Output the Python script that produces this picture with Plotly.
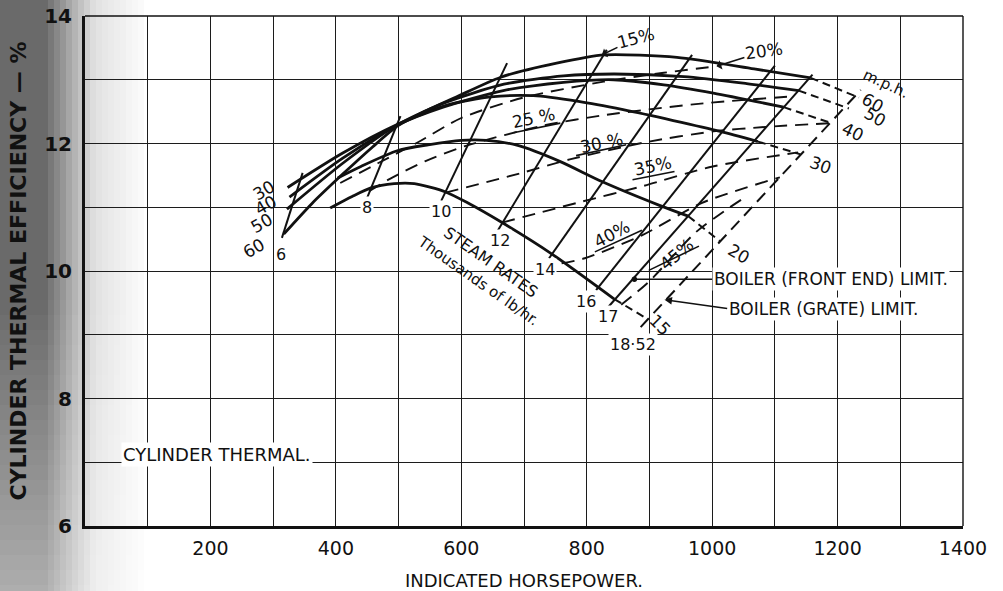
import plotly.graph_objects as go

INK = "#111111"
FONT = "DejaVu Sans"

# ---- constant-speed curves: indicated horsepower vs cylinder thermal efficiency (%) ----
hp_15mph = [391, 426, 455, 493, 525, 575, 610, 665, 744, 844]
eff_15mph = [10.99, 11.17, 11.30, 11.37, 11.37, 11.24, 11.07, 10.76, 10.27, 9.56]
hp_20mph = [403, 440, 499, 547, 600, 640, 690, 757, 825, 916, 962]
eff_20mph = [11.46, 11.64, 11.89, 11.98, 12.05, 12.05, 11.97, 11.72, 11.40, 11.03, 10.86]
hp_30mph = [323, 411, 496, 576, 647, 715, 787, 858, 938, 1013, 1073]
eff_30mph = [11.31, 11.85, 12.29, 12.60, 12.73, 12.75, 12.66, 12.53, 12.36, 12.19, 12.03]
hp_40mph = [326, 411, 496, 571, 667, 763, 843, 923, 1002, 1114]
eff_40mph = [11.16, 11.77, 12.28, 12.57, 12.83, 12.96, 13.00, 12.92, 12.79, 12.57]
hp_50mph = [322, 411, 496, 571, 668, 763, 843, 955, 1055, 1138]
eff_50mph = [10.97, 11.69, 12.28, 12.63, 12.93, 13.06, 13.09, 13.05, 12.94, 12.83]
hp_60mph = [317, 362, 411, 459, 499, 539, 592, 663, 752, 828, 944, 1067, 1157]
eff_60mph = [10.58, 11.06, 11.52, 11.95, 12.28, 12.49, 12.73, 13.04, 13.26, 13.39, 13.35, 13.17, 13.03]

speeds = ["15", "20", "30", "40", "50", "60"]
# each speed carried on (dashed) from the front-end limit to the grate limit
grate_hp = [898, 1012, 1141, 1190, 1218, 1234]
grate_eff = [9.24, 10.47, 11.83, 12.32, 12.55, 12.72]

# ---- constant steam-rate lines (thousands of lb/hr) ----
steam_rates = ["6", "8", "10", "12", "14", "16", "17"]
steam_hp_low = [314, 450, 568, 658, 740, 815, 833]
steam_eff_low = [10.52, 11.15, 11.10, 10.63, 10.20, 9.70, 9.42]
steam_hp_high = [347, 503, 673, 832, 968, 1100, 1160]
steam_eff_high = [11.54, 12.43, 13.26, 13.47, 13.39, 13.22, 13.08]
# boiler grate limit, 18.52 thousand lb/hr
grate_limit_hp = [886, 1237]
grate_limit_eff = [9.12, 12.84]

# ---- constant cut-off lines ----
hp_co20 = [407, 467, 531, 600, 699, 827, 923, 1007]
eff_co20 = [11.38, 11.69, 12.02, 12.40, 12.72, 12.97, 13.11, 13.21]
hp_co25 = [453, 487, 542, 606, 730, 831, 986, 1130]
eff_co25 = [11.25, 11.45, 11.72, 11.96, 12.28, 12.45, 12.63, 12.74]
hp_co30 = [575, 693, 773, 894, 1002, 1085, 1190]
eff_co30 = [11.23, 11.53, 11.75, 12.02, 12.19, 12.26, 12.32]
hp_co35 = [665, 793, 889, 1001, 1137]
eff_co35 = [10.76, 11.09, 11.33, 11.64, 11.86]
hp_co40 = [760, 797, 888, 984, 1108]
eff_co40 = [10.12, 10.20, 10.56, 11.07, 11.47]
hp_co45 = [855, 898, 973, 1021, 1056]
eff_co45 = [9.47, 9.82, 10.60, 10.95, 11.18]

# ---- label positions ----
steam_labels = ["6", "8", "10", "12", "14", "16", "17", "18·52"]
steam_label_hp = [312, 450, 568, 662, 734, 799, 834, 873]
steam_label_eff = [10.26, 11.00, 10.93, 10.48, 10.02, 9.52, 9.28, 8.85]

left_speed_labels = ["30", "40", "50", "60"]
left_speed_hp = [286, 289, 282, 270]
left_speed_eff = [11.27, 11.03, 10.75, 10.36]

right_speed_labels = ["15", "20", "30", "40", "50", "60"]
right_speed_hp = [917, 1043, 1173, 1225, 1260, 1257]
right_speed_eff = [9.15, 10.27, 11.67, 12.18, 12.41, 12.64]
right_speed_angle = [45, 30, 20, 25, 30, 30]

cutoff_labels = ["25 %", "30 %", "35%", "40%", "45%"]
cutoff_label_hp = [715, 823, 905, 840, 944]
cutoff_label_eff = [12.40, 12.01, 11.64, 10.58, 10.26]
cutoff_label_angle = [-12, -12, -12, -28, -40]
# short rules under the cut-off labels
cutoff_rule_hp = [(683, 758), (783, 863), (873, 940), (813, 888), (899, 979)]
cutoff_rule_eff = [(12.17, 12.32), (11.81, 11.98), (11.43, 11.56), (10.30, 10.64), (10.01, 10.39)]

fig = go.Figure()


def add_line(x, y, width, dash="solid", shape="linear"):
    fig.add_trace(go.Scatter(
        x=x, y=y, mode="lines", hoverinfo="skip", showlegend=False,
        line=dict(color=INK, width=width, dash=dash, shape=shape, smoothing=0.7),
    ))


# steam-rate lines
for i in range(len(steam_rates)):
    add_line([steam_hp_low[i], steam_hp_high[i]], [steam_eff_low[i], steam_eff_high[i]], 2.0)
add_line(grate_limit_hp, grate_limit_eff, 2.0, dash="12px,7px")

# cut-off lines
for hx, ey in [(hp_co20, eff_co20), (hp_co25, eff_co25), (hp_co30, eff_co30),
               (hp_co35, eff_co35), (hp_co40, eff_co40), (hp_co45, eff_co45)]:
    add_line(hx, ey, 1.9, dash="13px,8px", shape="spline")

# speed curves and their dashed continuation to the grate limit
speed_hp = [hp_15mph, hp_20mph, hp_30mph, hp_40mph, hp_50mph, hp_60mph]
speed_eff = [eff_15mph, eff_20mph, eff_30mph, eff_40mph, eff_50mph, eff_60mph]
for i in range(len(speeds)):
    add_line(speed_hp[i], speed_eff[i], 2.8, shape="spline")
    add_line([speed_hp[i][-1], grate_hp[i]], [speed_eff[i][-1], grate_eff[i]], 2.0, dash="8px,5px")

# rules under cut-off labels
for hx, ey in zip(cutoff_rule_hp, cutoff_rule_eff):
    add_line(list(hx), list(ey), 1.6)

annotations = []


def label(text, x, y, size=15, angle=0, xanchor="center", bg=None, **kw):
    a = dict(text=text, x=x, y=y, xref="x", yref="y", showarrow=False,
             font=dict(family=FONT, size=size, color=INK), textangle=angle,
             xanchor=xanchor, yanchor="middle")
    if bg:
        a.update(bgcolor=bg, borderpad=1)
    a.update(kw)
    annotations.append(a)


for t, x, y in zip(steam_labels, steam_label_hp, steam_label_eff):
    label(t, x, y, size=16, bg="white")
for t, x, y in zip(left_speed_labels, left_speed_hp, left_speed_eff):
    label(t, x, y, size=17, angle=-30)
for t, x, y, a in zip(right_speed_labels, right_speed_hp, right_speed_eff, right_speed_angle):
    label(t, x, y, size=17, angle=a)
label("m.p.h.", 1278, 12.94, size=15, angle=25)
for t, x, y, a in zip(cutoff_labels, cutoff_label_hp, cutoff_label_eff, cutoff_label_angle):
    label(t, x, y, size=17, angle=a)

# 15 % and 20 % cut-offs marked by arrows onto the 60 m.p.h. curve
for t, tip, txt, ang in [("15%", (824, 13.39), (879, 13.65), -15),
                         ("20%", (1007, 13.21), (1083, 13.45), -8)]:
    annotations.append(dict(
        text=t, x=tip[0], y=tip[1], ax=txt[0], ay=txt[1], axref="x", ayref="y",
        xref="x", yref="y", showarrow=True, arrowhead=1, arrowsize=1, arrowwidth=1.6,
        arrowcolor=INK, textangle=ang, font=dict(family=FONT, size=17, color=INK)))

label("STEAM RATES", 648, 10.14, size=16, angle=35)
label("Thousands of lb/hr.", 627, 9.84, size=15, angle=35)

# boiler limits
annotations.append(dict(
    text="BOILER (FRONT END) LIMIT.", x=876, y=9.87, ax=1000, ay=9.87, axref="x", ayref="y",
    xref="x", yref="y", showarrow=True, arrowhead=6, arrowsize=0.9, arrowwidth=1.5,
    arrowcolor=INK, xanchor="left", bgcolor="white", borderpad=1,
    font=dict(family=FONT, size=17, color=INK)))
annotations.append(dict(
    text="BOILER (GRATE) LIMIT.", x=924, y=9.55, ax=1024, ay=9.41, axref="x", ayref="y",
    xref="x", yref="y", showarrow=True, arrowhead=2, arrowsize=1, arrowwidth=1.5,
    arrowcolor=INK, xanchor="left", bgcolor="white", borderpad=1,
    font=dict(family=FONT, size=17, color=INK)))

label("CYLINDER THERMAL.", 58, 7.0, size=18, xanchor="left", bg="white", yshift=8)

# dark scanner haze along the left edge of the sheet
L, W, T, H = 85, 878, 16, 510
shapes = []


def haze(px, py):
    if px < 45:
        h = 1.0
    elif px < 75:
        h = 1.0 - (px - 45) / 30 * 0.5
    elif px < 95:
        h = 0.5 - (px - 75) / 20 * 0.3
    elif px < 150:
        h = 0.2 - (px - 95) / 55 * 0.2
    else:
        h = 0.0
    v = 1.0 if py < 300 else 1.0 - (py - 300) / 291 * 0.45
    return 0.72 * h * v


STEP_X, STEP_Y = 6, 15
for cx in range(0, 152, STEP_X):
    for cy in range(0, 591, STEP_Y):
        op = haze(cx + STEP_X / 2, cy + STEP_Y / 2)
        if op <= 0.01:
            continue
        shapes.append(dict(
            type="rect", xref="paper", yref="paper", layer="below", line=dict(width=0),
            x0=(cx - L) / W, x1=(cx + STEP_X - L) / W,
            y0=(T + H - cy - STEP_Y) / H, y1=(T + H - cy) / H,
            fillcolor="#303030", opacity=round(op, 3)))

# top and right edges of the grid
shapes.append(dict(type="line", xref="paper", yref="paper", x0=0, x1=1, y0=1, y1=1,
                   line=dict(color=INK, width=1.4)))
shapes.append(dict(type="line", xref="paper", yref="paper", x0=1, x1=1, y0=0, y1=1,
                   line=dict(color=INK, width=1.4)))

grid = dict(showgrid=True, gridcolor="#1c1c1c", gridwidth=1.3)

fig.update_layout(
    width=1003, height=591,
    margin=dict(l=L, r=1003 - L - W, t=T, b=591 - T - H, autoexpand=False),
    paper_bgcolor="white", plot_bgcolor="rgba(0,0,0,0)",
    font=dict(family=FONT, color=INK),
    annotations=annotations, shapes=shapes,
    xaxis=dict(
        range=[0, 1400], tickmode="array", tickvals=[200, 400, 600, 800, 1000, 1200, 1400],
        ticks="", ticklen=0, tickfont=dict(size=19, family=FONT, color=INK), ticklabelstandoff=3,
        showline=True, linecolor=INK, linewidth=3, zeroline=False, automargin=False,
        minor=dict(tickmode="linear", tick0=0, dtick=100, showgrid=True,
                   gridcolor="#1c1c1c", gridwidth=1.3),
        title=dict(text="INDICATED HORSEPOWER.", font=dict(size=18, family=FONT, color=INK),
                   standoff=18),
        **grid,
    ),
    yaxis=dict(
        range=[6, 14], tickmode="array", tickvals=[6, 8, 10, 12, 14],
        ticks="", tickfont=dict(size=20, family=FONT, color=INK, weight="bold"),
        ticklabelstandoff=6,
        showline=True, linecolor=INK, linewidth=3, zeroline=False, automargin=False,
        minor=dict(tickmode="linear", tick0=0, dtick=1, showgrid=True,
                   gridcolor="#1c1c1c", gridwidth=1.3),
        title=dict(text="CYLINDER THERMAL EFFICIENCY — %",
                   font=dict(size=22, family=FONT, color=INK, weight="bold"), standoff=12),
        **grid,
    ),
)

fig.write_html("out.html")
